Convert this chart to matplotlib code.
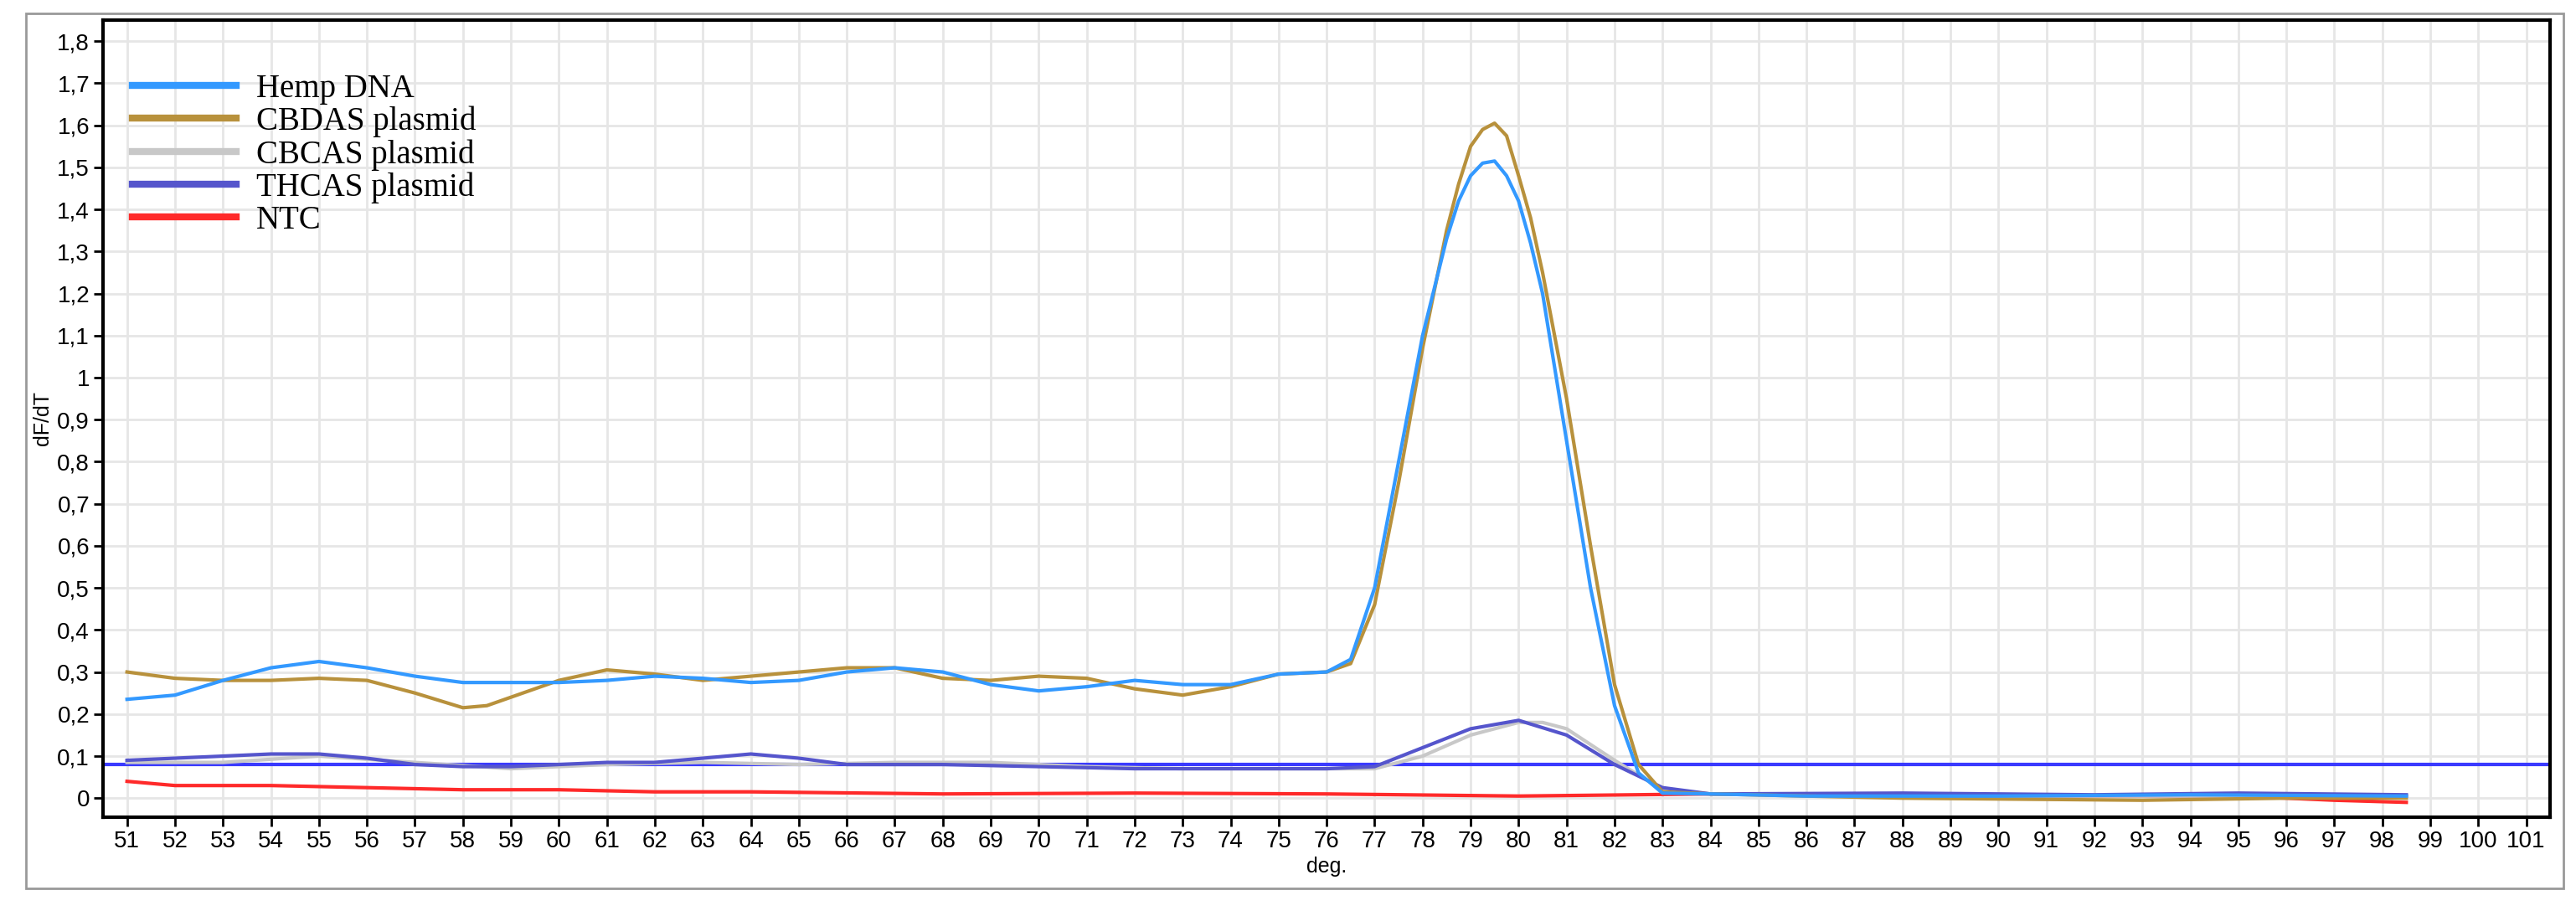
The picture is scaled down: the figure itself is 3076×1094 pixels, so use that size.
import matplotlib
matplotlib.use('Agg')
import matplotlib.pyplot as plt
import numpy as np

# melt curve data (deg, dF/dT)
hemp_x = [51, 52, 53, 54, 55, 56, 57, 58, 59, 60, 61, 62, 63, 64, 65, 66, 67, 68, 69, 70, 71, 72, 73, 74, 75, 76,
          76.5, 77, 77.5, 78, 78.5, 78.75, 79, 79.25, 79.5, 79.75, 80, 80.25, 80.5, 81, 81.5, 82, 82.5, 83, 84, 86, 90, 94, 98.5]
hemp_y = [0.235, 0.245, 0.28, 0.31, 0.325, 0.31, 0.29, 0.275, 0.275, 0.275, 0.28, 0.29, 0.285, 0.275, 0.28, 0.30,
          0.31, 0.30, 0.27, 0.255, 0.265, 0.28, 0.27, 0.27, 0.295, 0.30,
          0.33, 0.50, 0.80, 1.10, 1.33, 1.42, 1.48, 1.51, 1.515, 1.48, 1.42, 1.32, 1.20, 0.85, 0.50, 0.22, 0.06, 0.012,
          0.01, 0.005, 0.005, 0.008, 0.005]
cbdas_x = [51, 52, 53, 54, 55, 56, 57, 58, 58.5, 59, 60, 61, 62, 63, 64, 65, 66, 67, 68, 69, 70, 71, 72, 73, 74, 75, 76,
           76.5, 77, 77.5, 78, 78.5, 78.75, 79, 79.25, 79.5, 79.75, 80, 80.25, 80.5, 81, 81.5, 82, 82.5, 83, 84, 88, 93, 96, 98.5]
cbdas_y = [0.30, 0.285, 0.28, 0.28, 0.285, 0.28, 0.25, 0.215, 0.22, 0.24, 0.28, 0.305, 0.295, 0.28, 0.29, 0.30, 0.31,
           0.31, 0.285, 0.28, 0.29, 0.285, 0.26, 0.245, 0.265, 0.295, 0.30,
           0.32, 0.46, 0.75, 1.07, 1.35, 1.46, 1.55, 1.59, 1.605, 1.575, 1.48, 1.38, 1.25, 0.95, 0.60, 0.27, 0.08, 0.015,
           0.01, 0.0, -0.005, 0.0, 0.0]
cbcas_x = [51, 53, 55, 57, 59, 61, 63, 65, 67, 69, 71, 73, 75, 77, 78, 79, 80, 80.5, 81, 82, 83, 84, 90, 98.5]
cbcas_y = [0.085, 0.085, 0.10, 0.085, 0.07, 0.08, 0.085, 0.08, 0.085, 0.085, 0.075, 0.07, 0.07, 0.07, 0.10, 0.15,
           0.18, 0.18, 0.165, 0.09, 0.02, 0.01, 0.005, 0.005]
thcas_x = [51, 52, 53, 54, 55, 56, 57, 58, 59, 60, 61, 62, 63, 64, 65, 66, 68, 70, 72, 74, 76, 77, 78, 79, 80, 81,
           82, 83, 84, 88, 92, 95, 98.5]
thcas_y = [0.09, 0.095, 0.10, 0.105, 0.105, 0.095, 0.08, 0.075, 0.075, 0.08, 0.085, 0.085, 0.095, 0.105, 0.095, 0.08,
           0.08, 0.075, 0.07, 0.07, 0.07, 0.075, 0.12, 0.165, 0.185, 0.15, 0.08, 0.025, 0.01, 0.012, 0.008, 0.012, 0.008]
ntc_x = [51, 52, 54, 56, 58, 60, 62, 64, 68, 72, 76, 80, 84, 90, 95, 97, 98.5]
ntc_y = [0.04, 0.03, 0.03, 0.025, 0.02, 0.02, 0.015, 0.015, 0.01, 0.012, 0.01, 0.005, 0.01, 0.005, 0.005, -0.005, -0.01]
threshold = 0.08

plt.rcParams['font.family'] = ['Liberation Sans', 'DejaVu Sans']
fig = plt.figure(figsize=(30.76, 10.94), dpi=100)
ax = fig.add_axes([0.04, 0.108, 0.95, 0.87])

ax.axhline(threshold, color='#3a3aff', lw=3)
ax.plot(ntc_x, ntc_y, color='#ff2a2a', lw=3, label='NTC', zorder=3)
ax.plot(cbcas_x, cbcas_y, color='#c8c8c8', lw=3, label='CBCAS plasmid', zorder=4)
ax.plot(thcas_x, thcas_y, color='#5555cc', lw=3, label='THCAS plasmid', zorder=5)
ax.plot(cbdas_x, cbdas_y, color='#b8913c', lw=3, label='CBDAS plasmid', zorder=6)
ax.plot(hemp_x, hemp_y, color='#3399ff', lw=3, label='Hemp DNA', zorder=7)

ax.set_xlim(50.5, 101.5)
ax.set_ylim(-0.045, 1.85)
ax.set_xticks(np.arange(51, 102))
yt = np.round(np.arange(0, 1.81, 0.1), 1)
ax.set_yticks(yt)
ax.set_yticklabels([('%g' % v).replace('.', ',') for v in yt])
ax.tick_params(labelsize=20, length=8, width=2)
ax.grid(color='#e6e6e6', lw=2)
for s in ax.spines.values():
    s.set_linewidth(3)
ax.set_xlabel('deg.', fontsize=18)
ax.set_ylabel('dF/dT', fontsize=18)

h, l = ax.get_legend_handles_labels()
order = ['Hemp DNA', 'CBDAS plasmid', 'CBCAS plasmid', 'THCAS plasmid', 'NTC']
hs = [h[l.index(n)] for n in order]
leg = ax.legend(hs, order, loc='upper left', bbox_to_anchor=(0.0, 0.97), frameon=False,
                prop={'family': 'Liberation Serif', 'size': 28}, handlelength=3.2, handletextpad=0.6,
                labelspacing=0.05)
for line in leg.get_lines():
    line.set_linewidth(6)

fig.patches.append(plt.Rectangle((0.01, 0.03), 0.985, 0.955, transform=fig.transFigure,
                                 fill=False, edgecolor='#999999', lw=2))
fig.savefig('out.png')
